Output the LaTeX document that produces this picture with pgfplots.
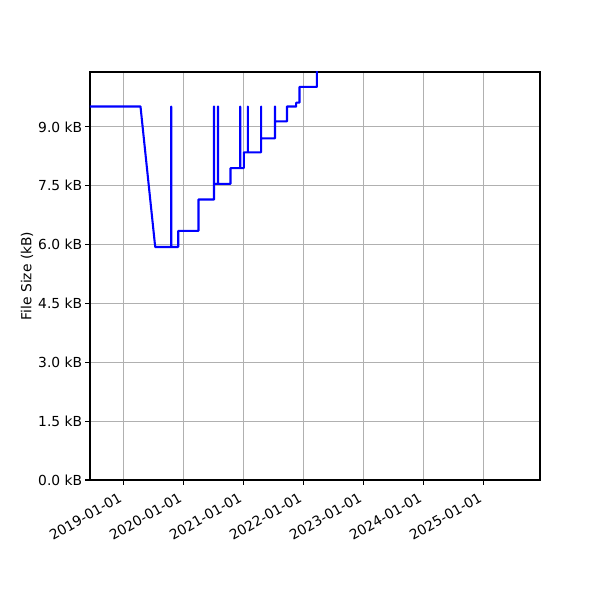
\documentclass[border=0pt]{standalone}
\usepackage{pgfplots}
\pgfplotsset{compat=1.18}
\usepackage{fontspec}
\setmainfont{DejaVu Sans}
\definecolor{gridgray}{RGB}{176,176,176}
\definecolor{mplblue}{RGB}{0,0,255}
\begin{document}
\begin{tikzpicture}
\path[use as bounding box] (-0.9in,-1.2in) rectangle (5.1in,4.8in);
\begin{axis}[
  at={(0,0)}, anchor=south west,
  scale only axis, width=4.5in, height=4.08in,
  xmin=2018.4413, xmax=2025.9413,
  ymin=0, ymax=10.40,
  xtick={2019,2020,2021,2022,2023,2024,2025},
  xticklabels={2019-01-01,2020-01-01,2021-01-01,2022-01-01,2023-01-01,2024-01-01,2025-01-01},
  ytick={0,1.5,3,4.5,6,7.5,9},
  yticklabels={0.0 kB,1.5 kB,3.0 kB,4.5 kB,6.0 kB,7.5 kB,9.0 kB},
  /pgf/number format/assume math mode=true,
  tick label style={font=\fontsize{10}{12}\selectfont},
  xticklabel style={rotate=30, anchor=north east, xshift=-4pt, inner sep=2pt},
  yticklabel style={inner sep=2pt},
  xtick pos=bottom, ytick pos=left,
  tick align=outside,
  major tick length=3.5pt,
  tick style={black, line width=0.8pt},
  axis line style={line width=0.8pt},
  grid=major,
  major grid style={gridgray, line width=0.8pt},
  ylabel={File Size (kB)},
  ylabel style={at={(axis description cs:-0.14,0.5)}, anchor=center, font=\fontsize{10}{12}\selectfont},
  clip=true,
]
\addplot[mplblue, line width=1.5pt, line join=round] coordinates {
(2018.3, 9.52)
(2019.283, 9.52)
(2019.528, 5.94)
(2019.795, 5.94)
(2019.795, 9.52)
(2019.795, 5.94)
(2019.912, 5.94)
(2019.912, 6.35)
(2020.25, 6.35)
(2020.25, 7.15)
(2020.508, 7.15)
(2020.508, 9.52)
(2020.508, 7.55)
(2020.575, 7.55)
(2020.575, 9.52)
(2020.575, 7.55)
(2020.783, 7.55)
(2020.783, 7.95)
(2020.945, 7.95)
(2020.945, 9.52)
(2020.945, 7.95)
(2021.005, 7.95)
(2021.005, 8.35)
(2021.072, 8.35)
(2021.072, 9.52)
(2021.072, 8.35)
(2021.292, 8.35)
(2021.292, 9.52)
(2021.292, 8.71)
(2021.525, 8.71)
(2021.525, 9.52)
(2021.525, 9.14)
(2021.725, 9.14)
(2021.725, 9.52)
(2021.878, 9.52)
(2021.878, 9.62)
(2021.933, 9.62)
(2021.933, 10.02)
(2022.222, 10.02)
(2022.222, 11.5)
};
\end{axis}
\end{tikzpicture}
\end{document}
